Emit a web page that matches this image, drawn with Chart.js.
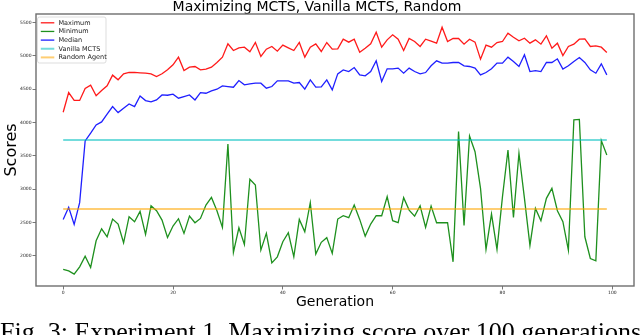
<!DOCTYPE html>
<html>
<head>
<meta charset="utf-8">
<script src="https://cdn.jsdelivr.net/npm/chart.js@4.4.1/dist/chart.umd.min.js"></script>
<style>
  html, body { margin: 0; padding: 0; background: #ffffff; overflow: hidden; }
  #wrap { position: relative; width: 640px; height: 335px; overflow: hidden; }
  #c { position: absolute; left: 0; top: 0; }
  #caption { position: absolute; left: 0px; top: 319px; font-family: "Liberation Serif", serif; font-size: 26px; line-height: 26px; white-space: nowrap; color: #000; }
</style>
</head>
<body>
<div id="wrap">
  <canvas id="c" width="640" height="335"></canvas>
  <div id="caption">Fig. 3: Experiment 1. Maximizing score over 100 generations</div>
</div>
<script>
const titleText = "Maximizing MCTS, Vanilla MCTS, Random";
const xTitle = "Generation";
const yTitle = "Scores";
const seriesNames = ["Maximum", "Minimum", "Median", "Vanilla MCTS", "Random Agent"];

const generations = Array.from({length: 100}, (_, i) => i);
const xTicks = [0, 20, 40, 60, 80, 100];
const yTicks = [2000, 2500, 3000, 3500, 4000, 4500, 5000, 5500];

const maxScores = [
  4153, 4448, 4330, 4330, 4510, 4560, 4400, 4480, 4550, 4710,
  4640, 4730, 4750, 4750, 4745, 4740, 4730, 4690, 4730, 4790,
  4865, 4980, 4780, 4830, 4840, 4790, 4800, 4830, 4900, 4980,
  5180, 5080, 5120, 5130, 5060, 5200, 4990, 5100, 5140, 5070,
  5160, 5120, 5080, 5200, 4980, 5130, 5180, 5065, 5200, 5100,
  5105, 5250, 5205, 5250, 5055, 5115, 5180, 5355, 5130, 5240,
  5315, 5250, 5080, 5260, 5215, 5140, 5250, 5220, 5190, 5430,
  5215, 5260, 5260, 5175, 5250, 5205, 4950, 5160, 5130, 5200,
  5215, 5340, 5280, 5225, 5265, 5190, 5240, 5175, 5300, 5115,
  5190, 5005, 5140, 5175, 5250, 5255, 5140, 5150, 5130, 5050
];
const minScores = [
  1792, 1771, 1722, 1832, 1992, 1822, 2223, 2403, 2283, 2549,
  2474, 2193, 2584, 2509, 2664, 2319, 2749, 2674, 2534, 2273,
  2444, 2554, 2334, 2594, 2494, 2559, 2759, 2874, 2674, 2424,
  3677, 2048, 2418, 2168, 3146, 3060, 2083, 2334, 1892, 1982,
  2208, 2343, 1982, 2544, 2358, 2794, 2023, 2200, 2270, 2033,
  2549, 2599, 2569, 2759, 2544, 2293, 2474, 2599, 2599, 2885,
  2524, 2494, 2870, 2684, 2594, 2749, 2424, 2744, 2494, 2494,
  2494, 1907, 3862, 2454, 3797, 3561, 3010, 2093, 2624, 2093,
  2885, 3586, 2574, 3537, 2860, 2153, 2709, 2524, 2860, 3010,
  2674, 2509, 2083, 4040, 4045, 2283, 1957, 1922, 3727, 3511
];
const medScores = [
  2544, 2725, 2469, 2795, 3722, 3838, 3962, 4008, 4123, 4238,
  4148, 4214, 4278, 4238, 4398, 4328, 4308, 4338, 4413, 4408,
  4424, 4364, 4388, 4413, 4338, 4448, 4438, 4474, 4499, 4549,
  4539, 4529, 4629, 4564, 4579, 4589, 4589, 4514, 4539, 4624,
  4624, 4624, 4589, 4599, 4499, 4639, 4529, 4535, 4639, 4489,
  4729, 4789, 4764, 4824, 4714, 4699, 4764, 4925, 4614, 4805,
  4805, 4815, 4739, 4815, 4764, 4729, 4749, 4850, 4925, 4890,
  4890, 4900, 4900, 4850, 4840, 4815, 4714, 4749, 4805, 4890,
  4890, 4980, 4915, 4840, 5015, 4764, 4779, 4764, 4900, 4900,
  4955, 4800, 4850, 4915, 4975, 4900, 4789, 4739, 4880, 4714
];
const vanillaScore = 3737;
const randomScore = 2699;

const toPts = arr => arr.map((v, i) => ({x: generations[i], y: v}));
const hline = v => [{x: generations[0], y: v}, {x: generations[generations.length - 1], y: v}];

const FONT = "'DejaVu Sans', sans-serif";

const legendPlugin = {
  id: 'insideLegend',
  afterDraw(chart) {
    const ctx = chart.ctx;
    const a = chart.chartArea;
    const x0 = a.left + 1.5, y0 = a.top + 3, w = 68.5, h = 46;
    ctx.save();
    ctx.beginPath();
    if (ctx.roundRect) ctx.roundRect(x0, y0, w, h, 2); else ctx.rect(x0, y0, w, h);
    ctx.fillStyle = 'rgba(255,255,255,0.85)';
    ctx.fill();
    ctx.strokeStyle = '#d4d4d4';
    ctx.lineWidth = 0.8;
    ctx.stroke();
    ctx.font = "6.5px " + FONT;
    ctx.textBaseline = 'middle';
    ctx.textAlign = 'left';
    chart.data.datasets.forEach((ds, i) => {
      const yy = y0 + 5.8 + i * 8.65;
      ctx.beginPath();
      ctx.moveTo(x0 + 3.3, yy);
      ctx.lineTo(x0 + 16.8, yy);
      ctx.strokeStyle = ds.borderColor;
      ctx.lineWidth = ds.borderWidth;
      ctx.stroke();
      ctx.fillStyle = '#1a1a1a';
      ctx.fillText(ds.label, x0 + 21, yy + 0.3);
    });
    ctx.restore();
  }
};

const framePlugin = {
  id: 'frame',
  afterDatasetsDraw(chart) {
    const ctx = chart.ctx;
    const a = chart.chartArea;
    ctx.save();
    ctx.strokeStyle = '#6e6e6e';
    ctx.lineWidth = 1.4;
    ctx.strokeRect(a.left, a.top, a.right - a.left, a.bottom - a.top);
    ctx.restore();
  }
};

const lineDs = (label, arr, color, order) => ({
  label, data: toPts(arr), borderColor: color, backgroundColor: color,
  borderWidth: 1.3, pointRadius: 0, tension: 0, fill: false, order
});

new Chart(document.getElementById('c'), {
  type: 'line',
  data: {
    datasets: [
      lineDs(seriesNames[0], maxScores, '#ff1a1a', 5),
      lineDs(seriesNames[1], minScores, '#1e901e', 4),
      lineDs(seriesNames[2], medScores, '#1f1fff', 3),
      { label: seriesNames[3], data: hline(vanillaScore), borderColor: 'rgba(0,191,191,0.55)', backgroundColor: 'rgba(0,191,191,0.55)', borderWidth: 2, pointRadius: 0, fill: false, order: 2 },
      { label: seriesNames[4], data: hline(randomScore), borderColor: 'rgba(255,165,0,0.55)', backgroundColor: 'rgba(255,165,0,0.55)', borderWidth: 2, pointRadius: 0, fill: false, order: 1 }
    ]
  },
  options: {
    responsive: false,
    animation: false,
    devicePixelRatio: 1,
    layout: { padding: { left: 0, right: 6, top: 0, bottom: 23 } },
    plugins: {
      legend: { display: false },
      tooltip: { enabled: false },
      title: {
        display: true, text: titleText, color: '#000',
        font: { family: FONT, size: 14, weight: 'normal', lineHeight: 1.2 },
        padding: { top: -1, bottom: -1.8 }
      }
    },
    scales: {
      x: {
        type: 'linear', min: -4.95, max: 103.95,
        afterFit(s) { s.height = 26; },
        afterBuildTicks(s) { s.ticks = xTicks.map(v => ({value: v})); },
        grid: { display: true, drawOnChartArea: false, drawTicks: true, tickLength: 3.5, tickColor: '#555', tickWidth: 0.8 },
        border: { display: false },
        ticks: { font: { family: FONT, size: 4.5 }, color: '#222', padding: 1, maxRotation: 0, autoSkip: false, callback: v => String(v) },
        title: { display: true, text: xTitle, color: '#000', font: { family: FONT, size: 14, lineHeight: 1.2 }, padding: { top: 0, bottom: 1.6 } }
      },
      y: {
        type: 'linear', min: 1544, max: 5628,
        afterFit(s) { s.width = 36; },
        afterBuildTicks(s) { s.ticks = yTicks.map(v => ({value: v})); },
        grid: { display: true, drawOnChartArea: false, drawTicks: true, tickLength: 3.5, tickColor: '#555', tickWidth: 0.8 },
        border: { display: false },
        ticks: { font: { family: FONT, size: 4.5 }, color: '#222', padding: 1, autoSkip: false, callback: v => String(v) },
        title: { display: true, text: yTitle, color: '#000', font: { family: FONT, size: 16, lineHeight: 1.2 }, padding: { top: 2.4, bottom: 0 } }
      }
    }
  },
  plugins: [framePlugin, legendPlugin]
});
</script>
</body>
</html>
